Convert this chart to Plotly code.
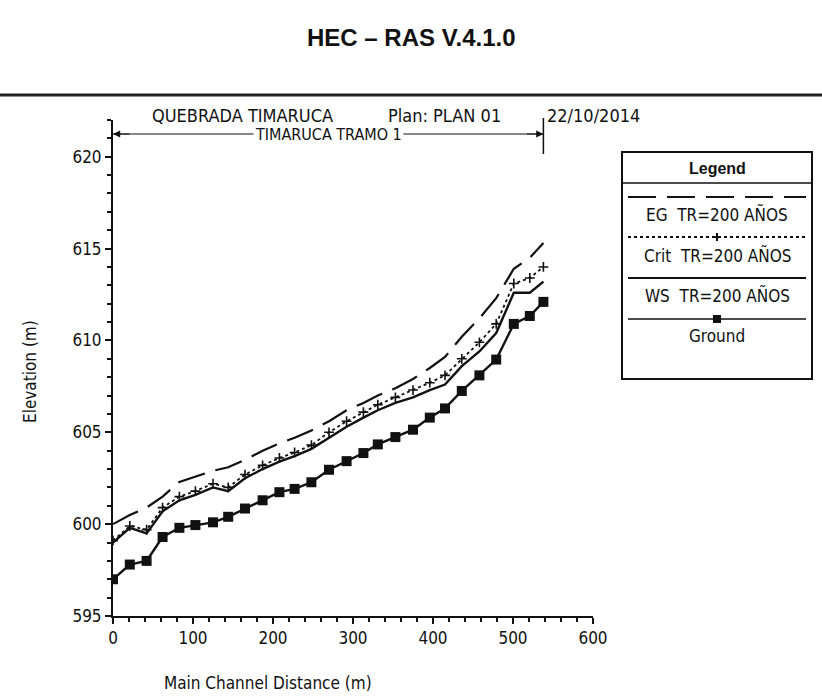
import plotly.graph_objects as go

# ---------------- data ----------------
stations = [0, 21, 42, 62, 83, 103, 125, 144, 165, 187, 208, 227, 248, 270,
            292, 313, 331, 353, 375, 396, 415, 436, 458, 479, 501, 521, 538]
ground = [597.0, 597.8, 598.0, 599.3, 599.8, 599.95, 600.1, 600.4, 600.85, 601.3,
          601.74, 601.92, 602.28, 602.96, 603.43, 603.87, 604.34, 604.74, 605.14,
          605.8, 606.3, 607.25, 608.1, 608.96, 610.9, 611.33, 612.1]
ws = [599.0, 599.8, 599.5, 600.7, 601.3, 601.6, 602.0, 601.8, 602.5, 603.0,
      603.4, 603.7, 604.1, 604.7, 605.3, 605.8, 606.2, 606.6, 606.9, 607.3,
      607.6, 608.6, 609.4, 610.4, 612.6, 612.6, 613.2]
crit = [599.1, 599.9, 599.7, 600.9, 601.5, 601.8, 602.2, 602.0, 602.7, 603.2,
        603.6, 603.9, 604.3, 605.0, 605.6, 606.1, 606.5, 606.9, 607.3, 607.7,
        608.1, 609.0, 609.9, 610.9, 613.1, 613.4, 614.0]
eg = [600.0, 600.5, 600.9, 601.5, 602.3, 602.6, 602.9, 603.1, 603.5, 604.0,
      604.4, 604.7, 605.1, 605.6, 606.2, 606.6, 607.0, 607.4, 607.9, 608.5,
      609.1, 610.2, 611.2, 612.3, 613.9, 614.5, 615.3]

x_ticks = [0, 100, 200, 300, 400, 500, 600]
y_ticks = [595, 600, 605, 610, 615, 620]

title_text = "HEC \u2013 RAS V.4.1.0"
river = "QUEBRADA TIMARUCA"
plan = "Plan: PLAN 01"
date = "22/10/2014"
reach = "TIMARUCA TRAMO 1"
legend_labels = ["EG  TR=200 A\u00d1OS", "Crit  TR=200 A\u00d1OS", "WS  TR=200 A\u00d1OS", "Ground"]

# ---------------- layout geometry (pixels) ----------------
W, H = 822, 697
L, R = 113, 593
T, B = 120, 616

def px(x):
    return (x - L) / (R - L)

def py(y):
    return (B - y) / (B - T)

NARROW = "DejaVu Sans Condensed, Liberation Sans Narrow, Arial Narrow, sans-serif"
SANS = "Liberation Sans, Arial, sans-serif"
BLACK = "#111111"
EG_DASH = "28px,11px"

fig = go.Figure()

fig.add_trace(go.Scatter(x=stations, y=eg, mode="lines", name=legend_labels[0],
                         line=dict(color=BLACK, width=2.2, dash=EG_DASH)))
fig.add_trace(go.Scatter(x=stations, y=crit, mode="lines+markers", name=legend_labels[1],
                         line=dict(color=BLACK, width=1.8, dash="dot"),
                         marker=dict(symbol="cross-thin", size=7, line=dict(color=BLACK, width=1.6))))
fig.add_trace(go.Scatter(x=stations, y=ws, mode="lines", name=legend_labels[2],
                         line=dict(color=BLACK, width=2.4)))
fig.add_trace(go.Scatter(x=stations, y=ground, mode="lines+markers", name=legend_labels[3],
                         line=dict(color=BLACK, width=2.4),
                         marker=dict(symbol="square", size=10, color=BLACK)))

shapes = []
annotations = []

# top title and rule
annotations.append(dict(text="<b>" + title_text + "</b>", x=px(411), y=py(37), xref="paper",
                        yref="paper", showarrow=False, xanchor="center", yanchor="middle",
                        font=dict(family=SANS, size=24, color=BLACK)))
shapes.append(dict(type="line", xref="paper", yref="paper", x0=px(0), x1=px(W),
                   y0=py(95), y1=py(95), line=dict(color="#222222", width=3)))

# subtitle
for txt, xx in ((river, 150), (plan, 386), (date, 545)):
    annotations.append(dict(text=txt, x=px(xx), y=py(115), xref="paper", yref="paper",
                            showarrow=False, xanchor="left", yanchor="middle",
                            font=dict(family=NARROW, size=18, color=BLACK)))

# reach bracket
yb = py(134)
shapes.append(dict(type="line", xref="x", yref="paper", x0=stations[0], x1=stations[-1],
                   y0=yb, y1=yb, line=dict(color=BLACK, width=1)))
shapes.append(dict(type="line", xref="x", yref="paper", x0=stations[-1], x1=stations[-1],
                   y0=py(118), y1=py(154), line=dict(color=BLACK, width=1.5)))
annotations.append(dict(text="", x=stations[0], y=yb, xref="x", yref="paper",
                        showarrow=True, ax=18, ay=0, arrowhead=2, arrowsize=1.2,
                        arrowwidth=1.2, arrowcolor=BLACK))
annotations.append(dict(text="", x=stations[-1], y=yb, xref="x", yref="paper",
                        showarrow=True, ax=-18, ay=0, arrowhead=2, arrowsize=1.2,
                        arrowwidth=1.2, arrowcolor=BLACK))
annotations.append(dict(text=reach, x=stations[-1] / 2, y=yb, xref="x", yref="paper",
                        showarrow=False, xanchor="center", yanchor="middle",
                        bgcolor="white", borderpad=1,
                        font=dict(family=NARROW, size=16, color=BLACK)))

# axis titles
annotations.append(dict(text="Elevation (m)", x=px(30), y=py(372), xref="paper", yref="paper",
                        showarrow=False, textangle=-90, xanchor="center", yanchor="middle",
                        font=dict(family=NARROW, size=17, color=BLACK)))
annotations.append(dict(text="Main Channel Distance (m)", x=px(268), y=py(683), xref="paper",
                        yref="paper", showarrow=False, xanchor="center", yanchor="middle",
                        font=dict(family=NARROW, size=17, color=BLACK)))

# custom legend box
lx0, lx1, ly0, ly1 = 622, 812, 152, 379
shapes.append(dict(type="rect", xref="paper", yref="paper", x0=px(lx0), x1=px(lx1),
                   y0=py(ly1), y1=py(ly0), line=dict(color=BLACK, width=2), fillcolor="white"))
shapes.append(dict(type="line", xref="paper", yref="paper", x0=px(lx0), x1=px(lx1),
                   y0=py(183), y1=py(183), line=dict(color=BLACK, width=1.5)))
annotations.append(dict(text="<b>Legend</b>", x=px((lx0 + lx1) / 2), y=py(168), xref="paper",
                        yref="paper", showarrow=False, xanchor="center", yanchor="middle",
                        font=dict(family=SANS, size=16, color=BLACK)))
sample_y = [197, 237, 278, 319]
label_y = [214, 255, 295, 336]
styles = [dict(dash=EG_DASH, width=2), dict(dash="dot", width=1.8),
          dict(dash="solid", width=2), dict(dash="solid", width=1.5)]
for sy, ly, lab, st in zip(sample_y, label_y, legend_labels, styles):
    shapes.append(dict(type="line", xref="paper", yref="paper", x0=px(lx0 + 6), x1=px(lx1 - 6),
                       y0=py(sy), y1=py(sy),
                       line=dict(color=BLACK, width=st["width"], dash=st["dash"])))
    annotations.append(dict(text=lab, x=px((lx0 + lx1) / 2), y=py(ly), xref="paper",
                            yref="paper", showarrow=False, xanchor="center", yanchor="middle",
                            font=dict(family=NARROW, size=17, color=BLACK)))
cx = (lx0 + lx1) / 2
shapes.append(dict(type="line", xref="paper", yref="paper", x0=px(cx - 4), x1=px(cx + 4),
                   y0=py(sample_y[1]), y1=py(sample_y[1]), line=dict(color=BLACK, width=2)))
shapes.append(dict(type="line", xref="paper", yref="paper", x0=px(cx), x1=px(cx),
                   y0=py(sample_y[1] - 4), y1=py(sample_y[1] + 4), line=dict(color=BLACK, width=2)))
shapes.append(dict(type="rect", xref="paper", yref="paper", x0=px(cx - 4), x1=px(cx + 4),
                   y0=py(sample_y[3] + 4), y1=py(sample_y[3] - 4), fillcolor=BLACK,
                   line=dict(color=BLACK, width=0)))

fig.update_layout(
    width=W, height=H,
    margin=dict(l=L, r=W - R, t=T, b=H - B, autoexpand=False),
    paper_bgcolor="white", plot_bgcolor="white",
    showlegend=False,
    shapes=shapes, annotations=annotations,
    xaxis=dict(range=[0, 600], tickvals=x_ticks, ticktext=[str(v) for v in x_ticks],
               showgrid=False, zeroline=False, showline=True, linecolor=BLACK, linewidth=2,
               ticks="outside", ticklen=6, tickwidth=2, tickcolor=BLACK,
               minor=dict(dtick=20, ticks="outside", ticklen=4, tickwidth=1.5, tickcolor=BLACK),
               tickfont=dict(family=NARROW, size=17, color=BLACK)),
    yaxis=dict(range=[595, 622], tickvals=y_ticks, ticktext=[str(v) for v in y_ticks],
               showgrid=False, zeroline=False, showline=True, linecolor=BLACK, linewidth=2,
               ticks="outside", ticklen=6, tickwidth=2, tickcolor=BLACK,
               minor=dict(dtick=1, ticks="outside", ticklen=4, tickwidth=1.5, tickcolor=BLACK),
               tickfont=dict(family=NARROW, size=17, color=BLACK)),
)

fig.write_html("out.html")
